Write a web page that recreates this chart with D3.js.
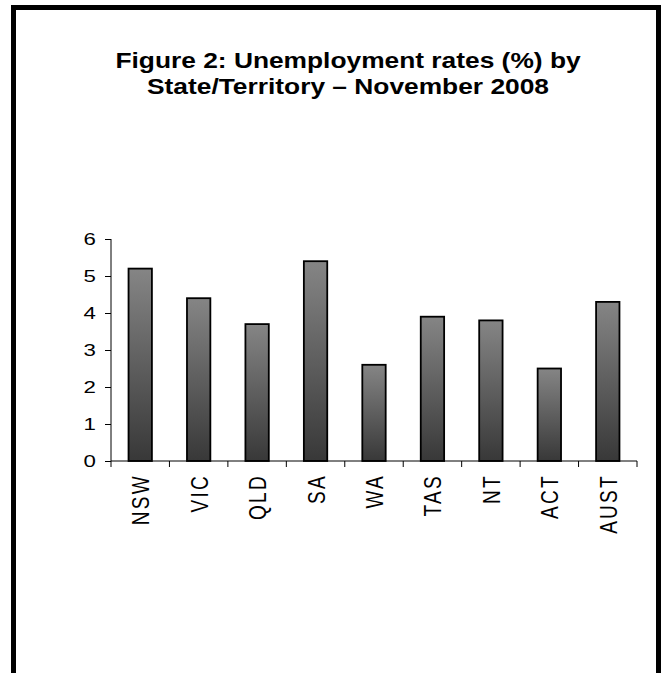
<!DOCTYPE html>
<html>
<head>
<meta charset="utf-8">
<script src="https://cdn.jsdelivr.net/npm/d3@7"></script>
<style>
  body { margin: 0; background: #fff; }
  svg { display: block; font-family: "Liberation Sans", Arial, sans-serif; }
</style>
</head>
<body>
<svg id="chart" width="665" height="673"></svg>
<script>
var states = ['NSW', 'VIC', 'QLD', 'SA', 'WA', 'TAS', 'NT', 'ACT', 'AUST'],
    rates = [5.2, 4.4, 3.7, 5.4, 2.6, 3.9, 3.8, 2.5, 4.3],
    yTicks = [0, 1, 2, 3, 4, 5, 6],
    titleLines = ['Figure 2: Unemployment rates (%) by', 'State/Territory \u2013 November 2008'];

var width = 665,
    height = 673,
    plotLeft = 111,
    plotRight = 637,
    plotTop = 239,
    plotBottom = 461,
    barRatio = 0.4, // bar width as share of category width
    stretch = 1.35; // the original text is drawn wide

var svg = d3.select('#chart');

// gradient for the bars, light on top, dark at the base
var grad = svg.append('defs').append('linearGradient')
    .attr('id', 'barGrad')
    .attr('x1', 0).attr('y1', 0)
    .attr('x2', 0).attr('y2', 1);
grad.append('stop').attr('offset', '0%').attr('stop-color', '#858585');
grad.append('stop').attr('offset', '100%').attr('stop-color', '#383838');

// frame round the figure (open at the bottom)
svg.append('path')
    .attr('d', 'M13.5,' + height + ' V7.5 H658.5 V' + height)
    .attr('fill', 'none')
    .attr('stroke', '#000')
    .attr('stroke-width', 5);

// title
svg.append('g')
    .selectAll('text')
    .data(titleLines)
    .join('text')
    .attr('transform', function(d, i) {
        return 'translate(348,' + (68 + i * 26) + ') scale(1.225,1)';
    })
    .attr('text-anchor', 'middle')
    .style('font-size', '21.5px')
    .style('font-weight', 'bold')
    .text(function(d) { return d; });

var x = d3.scaleBand()
    .domain(states)
    .range([plotLeft, plotRight]);

var y = d3.scaleLinear()
    .domain([0, 6])
    .range([plotBottom, plotTop]);

// bars
svg.append('g')
    .selectAll('rect')
    .data(rates)
    .join('rect')
    .attr('x', function(d, i) { return x(states[i]) + x.bandwidth() * (1 - barRatio) / 2; })
    .attr('y', function(d) { return y(d); })
    .attr('width', x.bandwidth() * barRatio)
    .attr('height', function(d) { return y(0) - y(d); })
    .attr('fill', 'url(#barGrad)')
    .attr('stroke', '#000')
    .attr('stroke-width', 1.8);

// y axis
var yAxis = svg.append('g')
    .attr('transform', 'translate(' + plotLeft + ',0)')
    .call(d3.axisLeft(y).tickValues(yTicks).tickSize(6).tickFormat(d3.format('d')));
yAxis.select('.domain').attr('d', 'M0,' + plotTop + 'V' + plotBottom);
yAxis.selectAll('text')
    .attr('x', 0)
    .attr('transform', 'translate(-15,0) scale(' + stretch + ',1)')
    .style('font-size', '16.5px')
    .style('font-family', '"Liberation Sans", Arial, sans-serif')
    .attr('fill', '#000');

// x axis: ticks fall between categories
var xAxis = svg.append('g')
    .attr('transform', 'translate(0,' + plotBottom + ')');
xAxis.append('line')
    .attr('x1', plotLeft).attr('x2', plotRight)
    .attr('stroke', '#000');
xAxis.selectAll('.tick')
    .data(states.concat(['']))
    .join('line')
    .attr('class', 'tick')
    .attr('x1', function(d, i) { return plotLeft + i * x.step(); })
    .attr('x2', function(d, i) { return plotLeft + i * x.step(); })
    .attr('y1', 0).attr('y2', 6)
    .attr('stroke', '#000');

xAxis.selectAll('.label')
    .data(states)
    .join('text')
    .attr('class', 'label')
    .attr('transform', function(d) {
        return 'translate(' + (x(d) + x.bandwidth() / 2 + 9) + ',13) scale(1.28,1) rotate(-90)';
    })
    .attr('text-anchor', 'end')
    .style('font-size', '19px')
    .style('letter-spacing', '2.3px')
    .text(function(d) { return d; });
</script>
</body>
</html>
